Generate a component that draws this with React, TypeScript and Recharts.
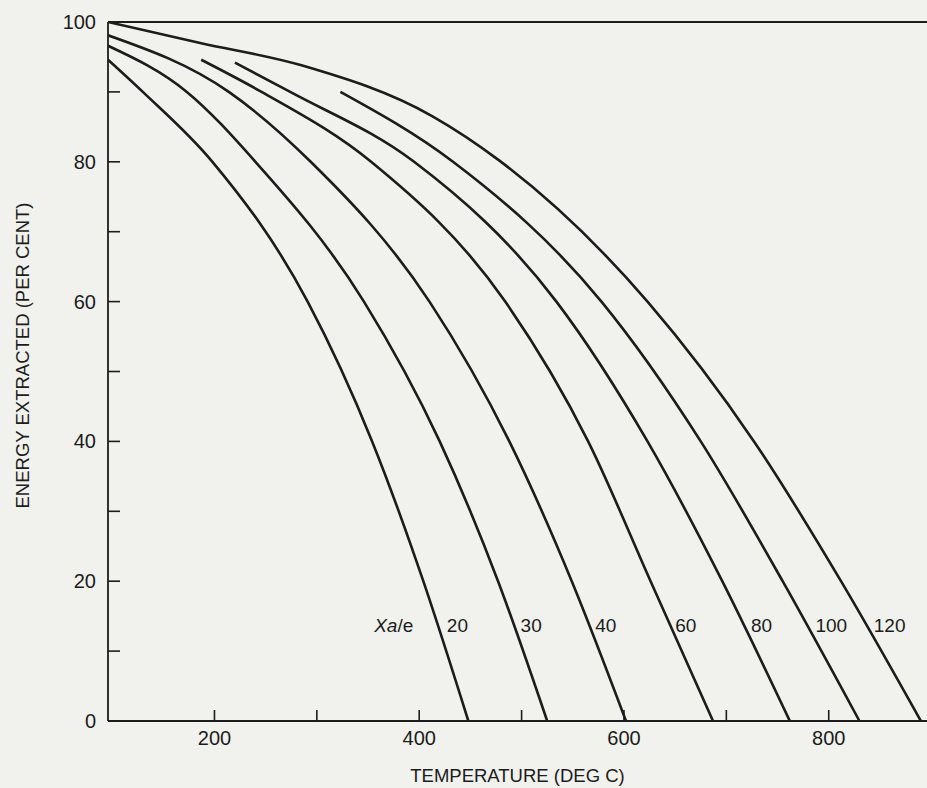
import React from "react";
import {
  ComposedChart,
  Line,
  Scatter,
  XAxis,
  YAxis,
  ReferenceLine,
  Label,
} from "recharts";

// temperature (deg C) vs energy extracted (per cent), one curve per Xa/e
const curve20 = [
  { t: 96, e: 94.6 },
  { t: 130, e: 90 },
  { t: 198, e: 80 },
  { t: 291, e: 60 },
  { t: 354, e: 40 },
  { t: 404, e: 20 },
  { t: 448, e: 0 },
];
const curve30 = [
  { t: 96, e: 96.6 },
  { t: 173, e: 90 },
  { t: 240, e: 80 },
  { t: 346, e: 60 },
  { t: 420, e: 40 },
  { t: 477, e: 20 },
  { t: 525, e: 0 },
];
const curve40 = [
  { t: 96, e: 98.1 },
  { t: 214, e: 90 },
  { t: 294, e: 80 },
  { t: 410, e: 60 },
  { t: 488, e: 40 },
  { t: 549, e: 20 },
  { t: 602, e: 0 },
];
const curve60 = [
  { t: 187, e: 94.6 },
  { t: 246, e: 90 },
  { t: 353, e: 80 },
  { t: 484, e: 60 },
  { t: 565, e: 40 },
  { t: 626, e: 20 },
  { t: 687, e: 0 },
];
const curve80 = [
  { t: 220, e: 94.2 },
  { t: 274, e: 90 },
  { t: 395, e: 80 },
  { t: 534, e: 60 },
  { t: 623, e: 40 },
  { t: 696, e: 20 },
  { t: 762, e: 0 },
];
const curve100 = [
  { t: 323, e: 90 },
  { t: 433, e: 80 },
  { t: 578, e: 60 },
  { t: 675, e: 40 },
  { t: 755, e: 20 },
  { t: 830, e: 0 },
];
const curve120 = [
  { t: 96, e: 100 },
  { t: 186, e: 97 },
  { t: 285, e: 93.8 },
  { t: 413, e: 86.5 },
  { t: 478, e: 80.2 },
  { t: 623, e: 60 },
  { t: 727, e: 40 },
  { t: 812, e: 20 },
  { t: 890, e: 0 },
];

const curves = [curve20, curve30, curve40, curve60, curve80, curve100, curve120];

// curve labels, placed by their left edge
const labelText = ["Xa/e", "20", "30", "40", "60", "80", "100", "120"];
const labelT = [356, 427, 499, 572, 650, 724, 787, 844];
const labelE = 13.7;
const labels = labelText.map((text, i) => ({ t: labelT[i], e: labelE, text }));

const xTicks = [200, 300, 400, 500, 600, 700, 800];
const yTicks = [0, 10, 20, 30, 40, 50, 60, 70, 80, 90, 100];

const ink = "#1c1c1c";
const font = "'Liberation Sans', Arial, sans-serif";

const XTick = (props: any) => {
  const { x, y, payload } = props;
  const v = payload.value;
  return (
    <g>
      <line x1={x} y1={y} x2={x} y2={y - 11} stroke={ink} strokeWidth={1.6} />
      {v % 200 === 0 && (
        <text x={x} y={y + 17} dy="0.35em" textAnchor="middle" fontSize={20} fill={ink} fontFamily={font}>
          {v}
        </text>
      )}
    </g>
  );
};

const YTick = (props: any) => {
  const { x, y, payload } = props;
  const v = payload.value;
  return (
    <g>
      <line x1={x} y1={y} x2={x + 12} y2={y} stroke={ink} strokeWidth={1.6} />
      {v % 20 === 0 && (
        <text x={x - 12} y={y} dy="0.35em" textAnchor="end" fontSize={20} fill={ink} fontFamily={font}>
          {v}
        </text>
      )}
    </g>
  );
};

const CurveLabel = (props: any) => {
  const { cx, cy, payload } = props;
  if (payload.text === "Xa/e") {
    return (
      <text x={cx} y={cy} dy="0.35em" fontSize={19} fill={ink} fontFamily={font}>
        <tspan fontStyle="italic">Xa</tspan>
        <tspan>/e</tspan>
      </text>
    );
  }
  return (
    <text x={cx} y={cy} dy="0.35em" fontSize={19} fill={ink} fontFamily={font}>
      {payload.text}
    </text>
  );
};

const XTitle = (props: any) => {
  const { x, y, width } = props.viewBox;
  return (
    <text x={x + width / 2} y={y + 55} dy="0.35em" textAnchor="middle" fontSize={18.5} fill={ink} fontFamily={font}>
      TEMPERATURE (DEG C)
    </text>
  );
};

const YTitle = (props: any) => {
  const { x, y, height } = props.viewBox;
  const cx = x - 25;
  const cy = y + height / 2 - 16;
  return (
    <text
      x={cx}
      y={cy}
      dy="0.35em"
      textAnchor="middle"
      transform={`rotate(-90, ${cx}, ${cy})`}
      fontSize={18.5}
      fill={ink}
      fontFamily={font}
    >
      ENERGY EXTRACTED (PER CENT)
    </text>
  );
};

export default function App() {
  return (
    <div style={{ position: "absolute", left: 0, top: 0, width: 927, height: 788, background: "#f1f1ed" }}>
      <ComposedChart width={927} height={788} margin={{ top: 22, right: 0, bottom: 0, left: 48 }}>
        <XAxis
          type="number"
          dataKey="t"
          domain={[96, 896]}
          allowDataOverflow
          ticks={xTicks}
          interval={0}
          tick={<XTick />}
          tickLine={false}
          tickSize={0}
          tickMargin={0}
          height={67}
          axisLine={{ stroke: ink, strokeWidth: 1.8 }}
        >
          <Label content={<XTitle />} />
        </XAxis>
        <YAxis
          type="number"
          dataKey="e"
          domain={[0, 100]}
          ticks={yTicks}
          interval={0}
          tick={<YTick />}
          tickLine={false}
          tickSize={0}
          tickMargin={0}
          width={60}
          axisLine={{ stroke: ink, strokeWidth: 1.8 }}
        >
          <Label content={<YTitle />} />
        </YAxis>
        <ReferenceLine y={100} stroke={ink} strokeWidth={1.8} />
        {curves.map((c, i) => (
          <Line
            key={i}
            data={c}
            dataKey="e"
            type="monotone"
            stroke={ink}
            strokeWidth={2.6}
            dot={false}
            activeDot={false}
            legendType="none"
            isAnimationActive={false}
          />
        ))}
        <Scatter data={labels} dataKey="e" shape={<CurveLabel />} isAnimationActive={false} />
      </ComposedChart>
    </div>
  );
}
